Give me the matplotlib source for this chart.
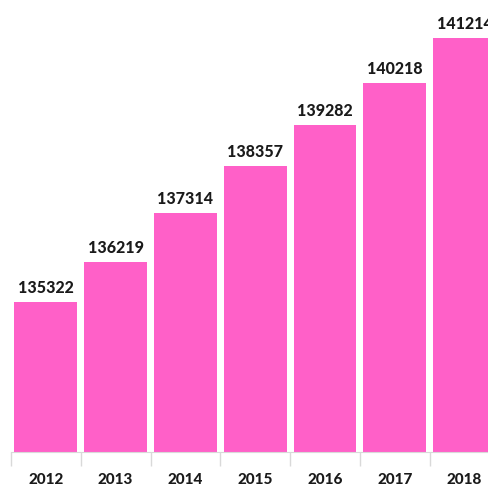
import numpy as np
import matplotlib.pyplot as plt

years = ['2012', '2013', '2014', '2015', '2016', '2017', '2018']
values = [135322, 136219, 137314, 138357, 139282, 140218, 141214]

plt.rcParams['font.family'] = ['Lato', 'DejaVu Sans']

fig = plt.figure(figsize=(4.89, 4.91), dpi=100)
ax = fig.add_axes([11 / 489, 39 / 491, 478 / 489, 452 / 491])

x = np.arange(len(years))
ax.bar(x, values, width=0.9, color='#ff60c8', zorder=2)
for xi, v in zip(x, values):
    ax.text(xi, v + 130, str(v), ha='center', va='bottom', fontsize=11.5,
            fontweight='black', color='#1a1a1a', clip_on=False)

ax.set_xlim(-0.5, 6.35)
ax.set_ylim(131974, 142063)
ax.set_yticks([])
ax.set_xticks(x)
ax.set_xticklabels(years, fontsize=11, fontweight='black', color='#1a1a1a')
ax.set_xticks(np.arange(-0.5, 6.5, 1), minor=True)
ax.tick_params(axis='x', which='major', length=0, pad=15)
ax.tick_params(axis='x', which='minor', length=10, color='#d9d9d9', width=1)
for side in ['top', 'right', 'left']:
    ax.spines[side].set_visible(False)
ax.spines['bottom'].set_color('#d9d9d9')

fig.savefig('out.png', dpi=100)
